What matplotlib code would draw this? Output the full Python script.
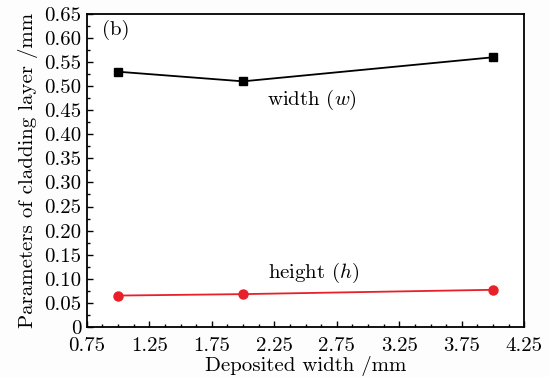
import matplotlib
matplotlib.use('Agg')
import matplotlib.pyplot as plt
from matplotlib.ticker import AutoMinorLocator, FuncFormatter

# data
deposited = [1.0, 2.0, 4.0]
width_w = [0.53, 0.51, 0.56]
height_h = [0.065, 0.068, 0.077]

x_ticks = [0.75, 1.25, 1.75, 2.25, 2.75, 3.25, 3.75, 4.25]
y_ticks = [0, 0.05, 0.10, 0.15, 0.20, 0.25, 0.30, 0.35, 0.40, 0.45, 0.50, 0.55, 0.60, 0.65]

plt.rcParams['font.family'] = ['cmr10', 'DejaVu Serif']
plt.rcParams['mathtext.fontset'] = 'cm'
plt.rcParams['axes.formatter.use_mathtext'] = True

fs = 15
fig = plt.figure(figsize=(5.49, 3.77), dpi=100)
fig.patch.set_facecolor('#fdfdfd')
ax = fig.add_axes([0.158, 0.133, 0.797, 0.830])

ax.plot(deposited, width_w, color='black', lw=1.3, marker='s', ms=6)
ax.plot(deposited, height_h, color='#e8202a', lw=1.3, marker='o', ms=6.5)

ax.set_xlim(0.75, 4.25)
ax.set_ylim(0, 0.65)
ax.set_xticks(x_ticks)
ax.set_yticks(y_ticks)
ax.xaxis.set_minor_locator(AutoMinorLocator(4))
ax.yaxis.set_minor_locator(AutoMinorLocator(2))
ax.xaxis.set_major_formatter(FuncFormatter(lambda v, p: f'{v:.2f}'))
ax.yaxis.set_major_formatter(FuncFormatter(lambda v, p: '0' if v == 0 else f'{v:.2f}'))

ax.tick_params(which='both', direction='in', labelsize=fs, width=1.0)
ax.tick_params(which='major', length=4)
ax.tick_params(which='minor', length=2.5)
ax.tick_params(axis='x', pad=7.5)
ax.tick_params(axis='y', pad=4)
for s in ax.spines.values():
    s.set_linewidth(1.3)

ax.set_xlabel('Deposited width /mm', fontsize=fs, labelpad=0.5)
ax.set_ylabel('Parameters of cladding layer /mm', fontsize=fs, labelpad=4)

ax.text(0.035, 0.95, '(b)', transform=ax.transAxes, fontsize=fs, va='center')
ax.text(2.19, 0.471, 'width ($w$)', fontsize=fs, va='center')
ax.text(2.2, 0.112, 'height ($h$)', fontsize=fs, va='center')

fig.savefig('out.png', dpi=100, facecolor=fig.get_facecolor())
